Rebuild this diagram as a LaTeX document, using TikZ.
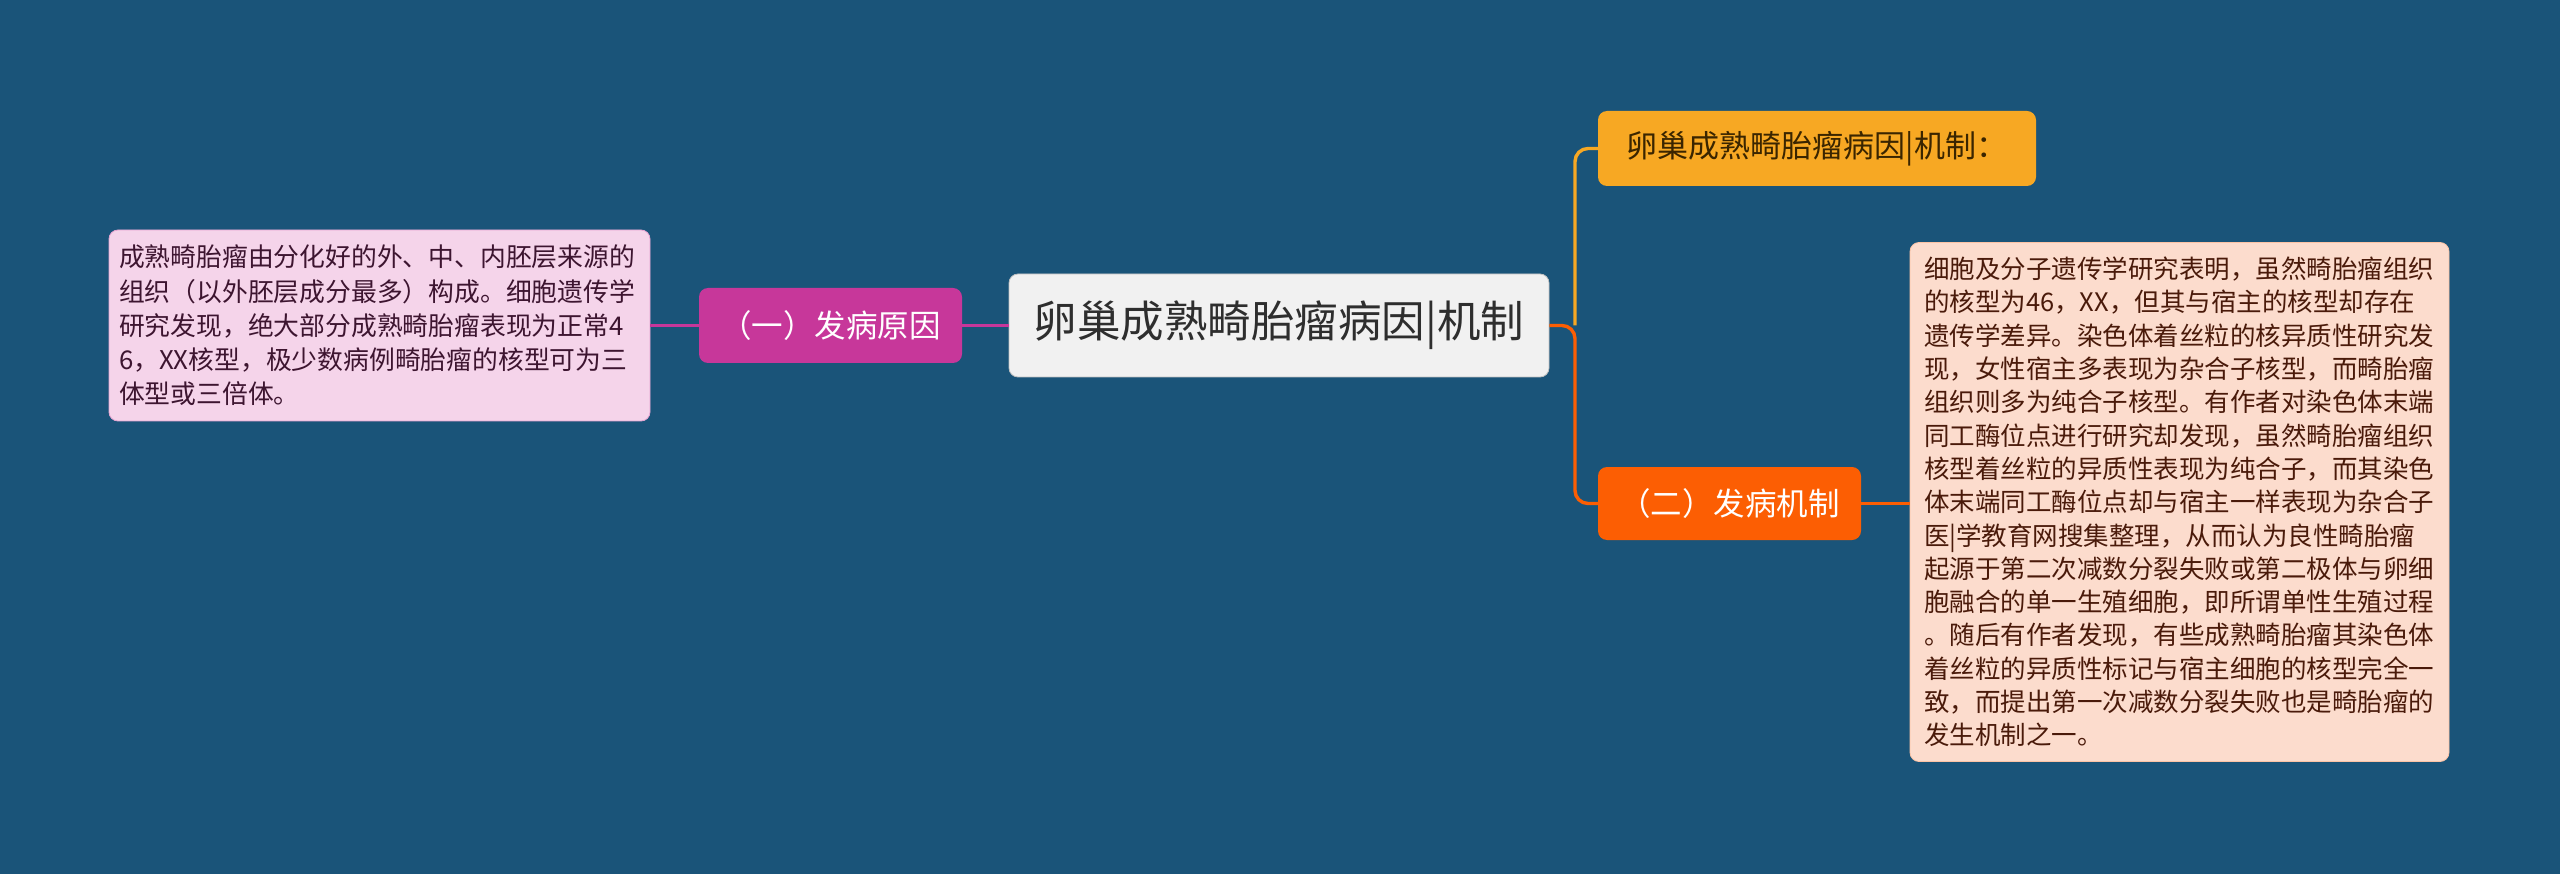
\documentclass[tikz,border=0pt]{standalone}
\usepackage{fontspec}
\setmainfont{Noto Sans CJK SC}
\definecolor{bgc}{HTML}{1A5479}
\definecolor{magc}{HTML}{C7379A}
\definecolor{pinkc}{HTML}{F5D4EA}
\definecolor{pinktext}{HTML}{3D1530}
\definecolor{orac}{HTML}{F7A823}
\definecolor{oratext}{HTML}{3A2500}
\definecolor{redc}{HTML}{FC5E03}
\definecolor{peachc}{HTML}{FCDCCD}
\definecolor{peachtext}{HTML}{4A1A0A}
\definecolor{centc}{HTML}{F1F1F1}
\definecolor{centtext}{HTML}{2E2E2E}
\tikzset{
  rbox/.style={rounded corners=9pt, inner sep=0pt, align=center},
  conn/.style={line width=3.4pt, rounded corners=13pt},
}
\begin{document}
\begin{tikzpicture}[x=1pt,y=-1pt]
\useasboundingbox (0,0) rectangle (2560,874);
\fill[bgc] (0,0) rectangle (2560,874);

\node[rbox, fill=centc, draw=centc!80!black, line width=0.8pt, minimum width=540pt, minimum height=103pt, text=centtext,
  font=\fontsize{43.5}{50}\selectfont] (center) at (1279,325.5) {卵巢成熟畸胎瘤病因|机制};

\node[rbox, fill=magc, minimum width=263pt, minimum height=75pt, text=white,
  font=\fontsize{31.5}{38}\selectfont] (cause) at (830.5,325.5) {（一）发病原因};

\node[rbox, fill=pinkc, draw=magc!30!pinkc, line width=0.8pt, minimum width=541pt, minimum height=191pt, text width=521pt, inner xsep=10pt, align=left, text=pinktext,
  font=\fontsize{25.8}{34.2}\selectfont] (causetext) at (379.5,325.5) {成熟畸胎瘤由分化好的外、中、内胚层来源的\\组织（以外胚层成分最多）构成。细胞遗传学\\研究发现，绝大部分成熟畸胎瘤表现为正常4\\6，XX核型，极少数病例畸胎瘤的核型可为三\\体型或三倍体。};

\node[rbox, fill=orac, minimum width=438pt, minimum height=75pt, text=oratext,
  font=\fontsize{31}{38}\selectfont] (title2) at (1817,148.5) {卵巢成熟畸胎瘤病因|机制：};

\node[rbox, fill=redc, minimum width=263pt, minimum height=73pt, text=white,
  font=\fontsize{31.5}{38}\selectfont] (mech) at (1729.5,503.5) {（二）发病机制};

\node[rbox, fill=peachc, draw=redc!20!peachc, line width=0.8pt, minimum width=539pt, minimum height=519pt, text width=511pt, inner xsep=14pt, align=left, text=peachtext,
  font=\fontsize{25.5}{33.3}\selectfont] (mechtext) at (2179.5,502) {细胞及分子遗传学研究表明，虽然畸胎瘤组织\\的核型为46，XX，但其与宿主的核型却存在\\遗传学差异。染色体着丝粒的核异质性研究发\\现，女性宿主多表现为杂合子核型，而畸胎瘤\\组织则多为纯合子核型。有作者对染色体末端\\同工酶位点进行研究却发现，虽然畸胎瘤组织\\核型着丝粒的异质性表现为纯合子，而其染色\\体末端同工酶位点却与宿主一样表现为杂合子\\医|学教育网搜集整理，从而认为良性畸胎瘤\\起源于第二次减数分裂失败或第二极体与卵细\\胞融合的单一生殖细胞，即所谓单性生殖过程\\。随后有作者发现，有些成熟畸胎瘤其染色体\\着丝粒的异质性标记与宿主细胞的核型完全一\\致，而提出第一次减数分裂失败也是畸胎瘤的\\发生机制之一。};

\coordinate (fork) at (1575,325.5);

\draw[conn, magc] (center.west) -- (cause.east);
\draw[conn, magc] (cause.west) -- (cause.west -| causetext.east);
\draw[conn, orac] (fork) -- (fork |- title2.west) -- (title2.west);
\draw[conn, redc] (center.east) -- (fork) -- (fork |- mech.west) -- (mech.west);
\draw[conn, redc] (mech.east) -- (mech.east -| mechtext.west);
\end{tikzpicture}
\end{document}
